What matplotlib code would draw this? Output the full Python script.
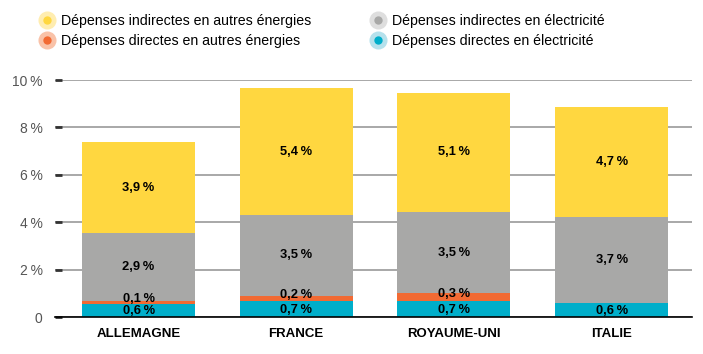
import matplotlib
matplotlib.use("Agg")
import matplotlib.pyplot as plt
from matplotlib.lines import Line2D
from matplotlib.legend_handler import HandlerTuple
import numpy as np

plt.rcParams['font.family'] = ['Liberation Sans', 'DejaVu Sans']

countries = ["ALLEMAGNE", "FRANCE", "ROYAUME-UNI", "ITALIE"]
directes_elec = [0.58, 0.70, 0.70, 0.59]
directes_autres = [0.11, 0.20, 0.31, 0.0]
indirectes_elec = [2.85, 3.42, 3.43, 3.65]
indirectes_autres = [3.85, 5.33, 5.01, 4.62]

labels_directes_elec = ["0,6", "0,7", "0,7", "0,6"]
labels_directes_autres = ["0,1", "0,2", "0,3", ""]
labels_indirectes_elec = ["2,9", "3,5", "3,5", "3,7"]
labels_indirectes_autres = ["3,9", "5,4", "5,1", "4,7"]

series_names = ["Dépenses indirectes en autres énergies",
                "Dépenses directes en autres énergies",
                "Dépenses indirectes en électricité",
                "Dépenses directes en électricité"]

yticks = [0, 2, 4, 6, 8, 10]
ytick_labels = ["0", "2\u2009%", "4\u2009%", "6\u2009%", "8\u2009%", "10\u2009%"]

c_yellow = "#FFD740"
c_orange = "#F26A33"
c_gray = "#A8A8A7"
c_blue = "#00AECA"
l_yellow = "#FFEDB0"
l_orange = "#F9C2A8"
l_gray = "#DEDEDE"
l_blue = "#B5E1EC"

W, H = 703, 354
fig = plt.figure(figsize=(W / 100, H / 100), dpi=100)
ax = fig.add_axes([55 / W, 1 - 317.3 / H, (692 - 55) / W, (317.3 - 80) / H])

x = np.arange(len(countries))
bw = 0.717
stack = [
    (directes_elec, c_blue, labels_directes_elec, -0.04),
    (directes_autres, c_orange, labels_directes_autres, 0.12),
    (indirectes_elec, c_gray, labels_indirectes_elec, 0.0),
    (indirectes_autres, c_yellow, labels_indirectes_autres, 0.0),
]
bottom = np.zeros(len(countries))
for vals, col, labs, dy in stack:
    vals = np.array(vals)
    ax.bar(x, vals, bw, bottom=bottom, color=col, zorder=3, linewidth=0)
    for i in range(len(countries)):
        if labs[i]:
            yc = bottom[i] + vals[i] / 2 + dy
            ax.text(x[i], yc, labs[i] + "\u2009%", ha="center", va="center",
                    fontsize=9.3, fontweight="bold", color="black", zorder=4)
    bottom = bottom + vals

ax.set_xlim(-0.53, 3.51)
ax.set_ylim(0, 10)
ax.set_yticks(yticks)
ax.set_yticklabels(ytick_labels)
ax.set_xticks(x)
ax.set_xticklabels(countries, fontweight="bold", fontsize=9.5)
ax.tick_params(axis="x", length=0, pad=8)
ax.tick_params(axis="y", direction="in", length=5, width=2, color="#333333",
               labelcolor="#555555", labelsize=10, pad=9)
for s in ["left", "right", "top"]:
    ax.spines[s].set_visible(False)
ax.spines["bottom"].set_color("black")
ax.spines["bottom"].set_linewidth(1.2)
ax.spines["bottom"].set_zorder(5)
ax.yaxis.grid(True, color="#9A9A9A", linewidth=1.2, zorder=1)
ax.set_axisbelow(True)

def handle(light, dark):
    return (Line2D([], [], marker="o", linestyle="", markersize=13,
                   markerfacecolor=light, markeredgewidth=0),
            Line2D([], [], marker="o", linestyle="", markersize=6,
                   markerfacecolor=dark, markeredgewidth=0))

handles = [handle(l_yellow, c_yellow), handle(l_orange, c_orange),
           handle(l_gray, c_gray), handle(l_blue, c_blue)]
fig.legend(handles, series_names, ncol=2, loc="upper left",
           bbox_to_anchor=(33 / W, 1 - 7 / H), frameon=False,
           handler_map={tuple: HandlerTuple(ndivide=1, pad=0)},
           fontsize=10.2, handlelength=1.0, handletextpad=0.45,
           columnspacing=4.25, labelspacing=0.45, borderpad=0)

fig.savefig("out.png", dpi=100)
